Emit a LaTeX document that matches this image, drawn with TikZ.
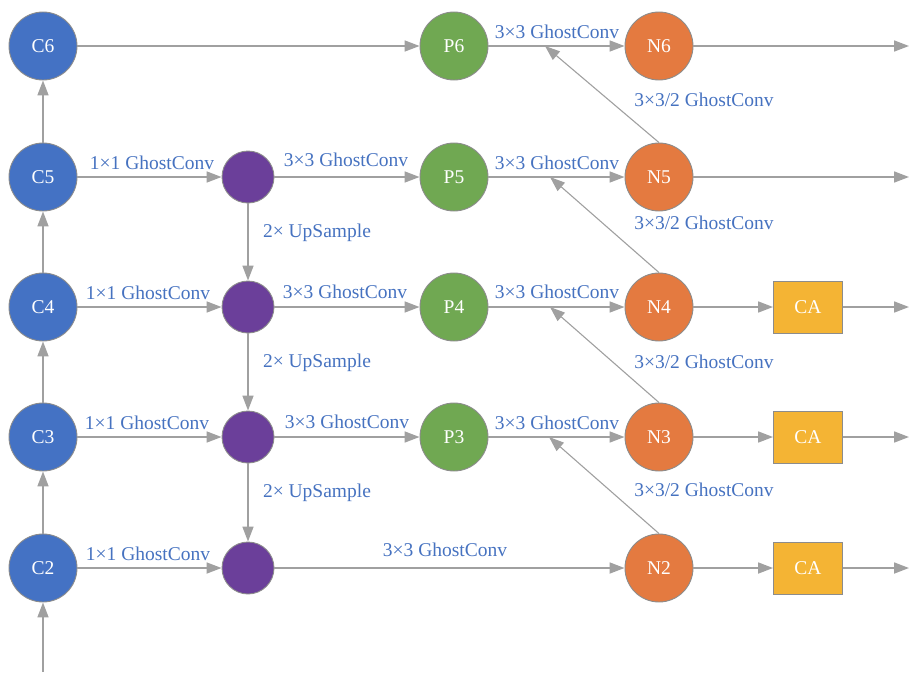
\documentclass[tikz,border=0pt]{standalone}
\usepackage{fontspec}
\setmainfont{Liberation Serif}
\usetikzlibrary{arrows.meta}
\definecolor{cblue}{RGB}{68,114,196}
\definecolor{cpurple}{RGB}{107,63,154}
\definecolor{cgreen}{RGB}{112,168,82}
\definecolor{corange}{RGB}{228,122,64}
\definecolor{cgold}{RGB}{244,180,52}
\definecolor{bord}{RGB}{140,140,140}
\definecolor{lgray}{RGB}{160,160,160}
\definecolor{tblue}{RGB}{70,114,192}
\begin{document}
\begin{tikzpicture}[x=1pt,y=-1pt,
  base/.style={draw=bord, line width=0.9pt, text=white, inner sep=0pt,
    font=\fontsize{19.5}{22}\selectfont},
  cnode/.style={base, circle, minimum size=68pt},
  unode/.style={base, circle, minimum size=52pt, fill=cpurple},
  canode/.style={base, rectangle, minimum width=69pt, minimum height=52pt, fill=cgold},
  arr/.style={draw=lgray, line width=1.7pt, -{Triangle[length=15pt,width=11pt]}},
  darr/.style={draw=lgray, line width=1.1pt, -{Triangle[length=15pt,width=11pt]}},
  lab/.style={text=tblue, inner sep=0pt, font=\fontsize{19.5}{22}\selectfont}]
\useasboundingbox (0,0) rectangle (909,672);
% C nodes
\node[cnode, fill=cblue] (C6) at (43,46) {C6};
\node[cnode, fill=cblue] (C5) at (43,177) {C5};
\node[cnode, fill=cblue] (C4) at (43,307) {C4};
\node[cnode, fill=cblue] (C3) at (43,437) {C3};
\node[cnode, fill=cblue] (C2) at (43,568) {C2};
% upsample nodes
\node[unode] (U5) at (248,177) {};
\node[unode] (U4) at (248,307) {};
\node[unode] (U3) at (248,437) {};
\node[unode] (U2) at (248,568) {};
% P nodes
\node[cnode, fill=cgreen] (P6) at (454,46) {P6};
\node[cnode, fill=cgreen] (P5) at (454,177) {P5};
\node[cnode, fill=cgreen] (P4) at (454,307) {P4};
\node[cnode, fill=cgreen] (P3) at (454,437) {P3};
% N nodes
\node[cnode, fill=corange] (N6) at (659,46) {N6};
\node[cnode, fill=corange] (N5) at (659,177) {N5};
\node[cnode, fill=corange] (N4) at (659,307) {N4};
\node[cnode, fill=corange] (N3) at (659,437) {N3};
\node[cnode, fill=corange] (N2) at (659,568) {N2};
% CA
\node[canode] (CA4) at (808,307) {CA};
\node[canode] (CA3) at (808,437) {CA};
\node[canode] (CA2) at (808,568) {CA};
% coordinates
\coordinate (o6) at (909,46);
\coordinate (o5) at (909,177);
\coordinate (o4) at (909,307);
\coordinate (o3) at (909,437);
\coordinate (o2) at (909,568);
\coordinate (in) at (43,672);
\coordinate (d6) at (545,46);
\coordinate (d5) at (550,177);
\coordinate (d4) at (550,307);
\coordinate (d3) at (549,437);
% vertical C
\draw[arr] (in) -- (C2);
\draw[arr] (C2) -- (C3);
\draw[arr] (C3) -- (C4);
\draw[arr] (C4) -- (C5);
\draw[arr] (C5) -- (C6);
% C to U
\draw[arr] (C6) -- (P6);
\draw[arr] (C5) -- (U5);
\draw[arr] (C4) -- (U4);
\draw[arr] (C3) -- (U3);
\draw[arr] (C2) -- (U2);
% U down
\draw[arr] (U5) -- (U4);
\draw[arr] (U4) -- (U3);
\draw[arr] (U3) -- (U2);
% U to P
\draw[arr] (U5) -- (P5);
\draw[arr] (U4) -- (P4);
\draw[arr] (U3) -- (P3);
\draw[arr] (U2) -- (N2);
% P to N
\draw[arr] (P6) -- (N6);
\draw[arr] (P5) -- (N5);
\draw[arr] (P4) -- (N4);
\draw[arr] (P3) -- (N3);
% diagonals
\draw[darr] (N5.north) -- (d6);
\draw[darr] (N4.north) -- (d5);
\draw[darr] (N3.north) -- (d4);
\draw[darr] (N2.north) -- (d3);
% outputs
\draw[arr] (N6) -- (o6);
\draw[arr] (N5) -- (o5);
\draw[arr] (N4) -- (CA4);
\draw[arr] (N3) -- (CA3);
\draw[arr] (N2) -- (CA2);
\draw[arr] (CA4) -- (o4);
\draw[arr] (CA3) -- (o3);
\draw[arr] (CA2) -- (o2);
% labels
\node[lab] (l1) at (152,163) {1×1 GhostConv};
\node[lab] (l2) at (148,293) {1×1 GhostConv};
\node[lab] (l3) at (147,423) {1×1 GhostConv};
\node[lab] (l4) at (148,554) {1×1 GhostConv};
\node[lab] (l5) at (346,160) {3×3 GhostConv};
\node[lab] (l6) at (345,292) {3×3 GhostConv};
\node[lab] (l7) at (347,422) {3×3 GhostConv};
\node[lab] (l8) at (557,32) {3×3 GhostConv};
\node[lab] (l9) at (557,163) {3×3 GhostConv};
\node[lab] (l10) at (557,292) {3×3 GhostConv};
\node[lab] (l11) at (557,423) {3×3 GhostConv};
\node[lab] (l12) at (445,550) {3×3 GhostConv};
\node[lab] (l13) at (704,100) {3×3/2 GhostConv};
\node[lab] (l14) at (704,223) {3×3/2 GhostConv};
\node[lab] (l15) at (704,362) {3×3/2 GhostConv};
\node[lab] (l16) at (704,490) {3×3/2 GhostConv};
\node[lab] (l17) at (317,233) {2× UpSample};
\node[lab] (l18) at (317,363) {2× UpSample};
\node[lab] (l19) at (317,493) {2× UpSample};
\end{tikzpicture}
\end{document}
